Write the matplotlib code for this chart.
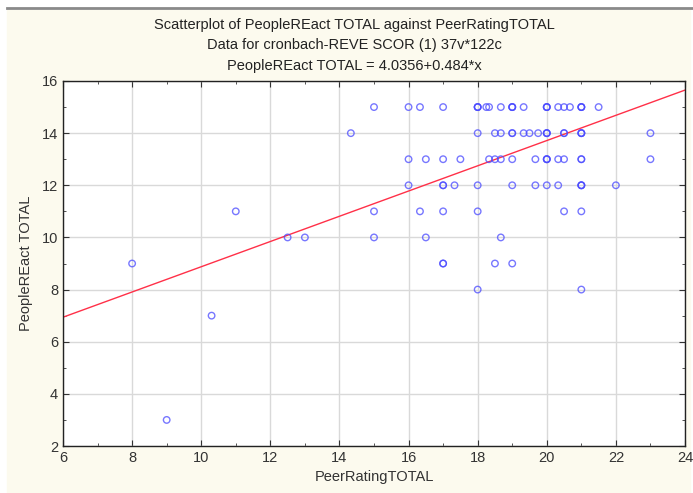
import numpy as np
import matplotlib.pyplot as plt
from matplotlib.ticker import MultipleLocator
from matplotlib.lines import Line2D

# PeerRatingTOTAL (x) and PeopleREact TOTAL (y).
# repeated pairs are the overlapping (darker) circles
peer_rating = [
    15, 16, 16.33, 17, 18, 18, 18, 18.25, 18.33, 18.67, 19, 19, 19, 19.33,
    20, 20, 20, 20.33, 20.5, 20.67, 21, 21, 21, 21.5,
    14.33, 18, 18.5, 18.67, 19, 19, 19.33, 19.5, 19.75, 20, 20, 20,
    20.5, 20.5, 21, 21, 21, 23,
    16, 16.5, 17, 17.5, 18.33, 18.5, 18.67, 19, 19.67, 20, 20, 20,
    20.33, 20.5, 21, 21, 23,
    16, 17, 17, 17.33, 18, 19, 19.67, 20, 20.33, 21, 21, 21, 22,
    11, 15, 16.33, 17, 18, 20.5, 21,
    12.5, 13, 15, 16.5, 18.67,
    8, 17, 17, 18.5, 19,
    18, 21,
    10.3,
    9,
]
people_react = (
    [15] * 24 + [14] * 18 + [13] * 17 + [12] * 13 + [11] * 7 + [10] * 5
    + [9] * 5 + [8] * 2 + [7] + [3]
)

intercept = 4.0356
slope = 0.484

title_lines = [
    "Scatterplot of PeopleREact TOTAL against PeerRatingTOTAL",
    "Data for cronbach-REVE SCOR (1) 37v*122c",
    "PeopleREact TOTAL = 4.0356+0.484*x",
]

plt.rcParams['font.family'] = ['Liberation Sans', 'DejaVu Sans']

fig = plt.figure(figsize=(6.93, 4.93), dpi=100, facecolor='white')
# cream window background and the grey band along the top
fig.patches.append(plt.Rectangle((7 / 693, 0.0), 683 / 693, 483 / 493,
                                 transform=fig.transFigure, color='#fcfaee', zorder=-2))
fig.lines.append(Line2D([7 / 693, 1.0], [485 / 493, 485 / 493], transform=fig.transFigure,
                        color='#8a8a8a', linewidth=2.0, zorder=-1))

ax = fig.add_axes([63 / 693, 47 / 493, 622 / 693, 365 / 493])
ax.set_zorder(1)
ax.set_facecolor('white')

ax.scatter(peer_rating, people_react, s=22, facecolors='none',
           edgecolors='#4a4aff', linewidths=1.0, alpha=0.75, zorder=3)

xs = np.array([6, 24])
ax.plot(xs, intercept + slope * xs, color='#ff3048', linewidth=1.0, zorder=2)

ax.set_xlim(6, 24)
ax.set_ylim(2, 16)
ax.xaxis.set_major_locator(MultipleLocator(2))
ax.xaxis.set_minor_locator(MultipleLocator(1))
ax.yaxis.set_major_locator(MultipleLocator(2))
ax.yaxis.set_minor_locator(MultipleLocator(1))
ax.grid(which='major', color='#d9d9d9', linewidth=1.0, zorder=0)
ax.set_axisbelow(True)
ax.tick_params(which='both', direction='in', top=True, right=True,
               colors='#333333', labelsize=10.5, labelcolor='#333333')
ax.tick_params(which='major', length=4)
ax.tick_params(which='minor', length=2)
for side in ax.spines.values():
    side.set_color('#222222')
    side.set_linewidth(1.0)

ax.set_xlabel("PeerRatingTOTAL", fontsize=10.5, color='#333333', labelpad=4)
ax.set_ylabel("PeopleREact TOTAL", fontsize=10.5, color='#333333', labelpad=6)

for i, line in enumerate(title_lines):
    fig.text(354 / 693, 1 - (25 + 20.5 * i) / 493, line, ha='center', va='center',
             fontsize=10.5, color='#222222')

plt.savefig("out.png", dpi=100, facecolor=fig.get_facecolor())
plt.close()
